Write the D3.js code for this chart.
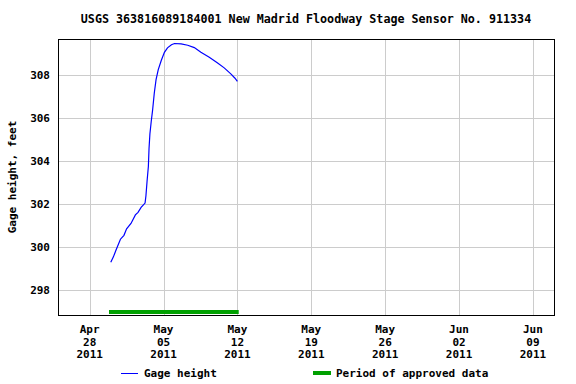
<!DOCTYPE html>
<html><head><meta charset="utf-8">
<script src="https://cdn.jsdelivr.net/npm/d3@7"></script>
<style>
body { margin: 0; background: #fff; }
text { font-family: "DejaVu Sans Mono", monospace; font-weight: bold; fill: #000; }
</style>
</head><body><svg width="576" height="384"></svg>
<script>

var title = "USGS 363816089184001 New Madrid Floodway Stage Sensor No. 911334";

// gage height readings (time, feet)
var times = [
  "2011-04-30T00:00", "2011-04-30T06:00", "2011-04-30T12:00", "2011-04-30T22:00",
  "2011-05-01T06:00", "2011-05-01T12:00", "2011-05-01T22:00", "2011-05-02T08:00",
  "2011-05-02T14:00", "2011-05-02T21:00", "2011-05-03T06:00", "2011-05-03T08:00",
  "2011-05-03T10:30", "2011-05-03T13:30", "2011-05-03T15:00", "2011-05-03T17:00",
  "2011-05-03T20:00", "2011-05-03T23:00", "2011-05-04T03:00", "2011-05-04T07:00",
  "2011-05-04T12:00", "2011-05-04T19:00", "2011-05-05T02:00", "2011-05-05T09:00",
  "2011-05-05T18:00", "2011-05-06T01:00", "2011-05-06T16:00", "2011-05-07T07:00",
  "2011-05-07T22:00", "2011-05-08T13:00", "2011-05-09T08:00", "2011-05-10T03:00",
  "2011-05-10T18:00", "2011-05-11T09:00", "2011-05-11T18:00", "2011-05-12T00:00"
];
var heights = [
  299.30, 299.55, 299.87, 300.37,
  300.55, 300.85, 301.10, 301.50,
  301.62, 301.85, 302.05, 302.39,
  303.05, 303.75, 304.57, 305.26,
  305.84, 306.34, 307.16, 307.78,
  308.25, 308.68, 309.05, 309.26,
  309.40, 309.46, 309.44, 309.38,
  309.27, 309.05, 308.82, 308.56,
  308.33, 308.05, 307.86, 307.70
];

var approvedStart = "2011-04-29T20:00";
var approvedEnd = "2011-05-12T03:00";

var yTicks = [298, 300, 302, 304, 306, 308];
var xTicks = ["2011-04-28", "2011-05-05", "2011-05-12", "2011-05-19", "2011-05-26", "2011-06-02", "2011-06-09"];

var parse = d3.timeParse("%Y-%m-%dT%H:%M"),
    parseDay = d3.timeParse("%Y-%m-%d");

var data = times.map(function(t, i) { return {date: parse(t), value: heights[i]}; });

var svg = d3.select("svg"),
    pLeft = 58, pRight = 554, pTop = 39, pBottom = 315;

var x = d3.scaleTime()
    .domain([parseDay("2011-04-25"), parseDay("2011-06-11")])
    .range([pLeft, pRight]);

var y = d3.scaleLinear()
    .domain([296.85, 309.67])
    .range([pBottom, pTop]);

// title
svg.append("text")
    .attr("x", 306).attr("y", 23)
    .attr("text-anchor", "middle")
    .style("font-size", "11.7px")
    .text(title);

// grid
svg.append("g").selectAll("line")
    .data(xTicks.map(parseDay))
  .enter().append("line")
    .attr("x1", function(d) { return Math.round(x(d)) + 0.5; })
    .attr("x2", function(d) { return Math.round(x(d)) + 0.5; })
    .attr("y1", pTop).attr("y2", pBottom)
    .attr("stroke", "#cccccc");

svg.append("g").selectAll("line")
    .data(yTicks)
  .enter().append("line")
    .attr("x1", pLeft).attr("x2", pRight)
    .attr("y1", function(d) { return Math.round(y(d)) + 0.5; })
    .attr("y2", function(d) { return Math.round(y(d)) + 0.5; })
    .attr("stroke", "#cccccc");

// approved period bar
svg.append("line")
    .attr("x1", x(parse(approvedStart))).attr("x2", x(parse(approvedEnd)))
    .attr("y1", 312).attr("y2", 312)
    .attr("stroke", "#00a000")
    .attr("stroke-width", 4);

// gage height line
svg.append("path")
    .datum(data)
    .attr("fill", "none")
    .attr("stroke", "#0000ff")
    .attr("stroke-width", 1.2)
    .attr("d", d3.line()
        .x(function(d) { return x(d.date); })
        .y(function(d) { return y(d.value); }));

// frame
svg.append("rect")
    .attr("x", pLeft + 0.5).attr("y", pTop + 0.5)
    .attr("width", pRight - pLeft).attr("height", pBottom - pTop)
    .attr("fill", "none")
    .attr("stroke", "#000");

// y tick labels
svg.append("g").selectAll("text")
    .data(yTicks)
  .enter().append("text")
    .attr("x", 50)
    .attr("y", function(d) { return y(d) + 4; })
    .attr("text-anchor", "end")
    .style("font-size", "11px")
    .text(function(d) { return d; });

// x tick labels
var fmt = [d3.timeFormat("%b"), d3.timeFormat("%d"), d3.timeFormat("%Y")];
var xl = svg.append("g").selectAll("text")
    .data(xTicks.map(parseDay))
  .enter().append("text")
    .attr("text-anchor", "middle")
    .style("font-size", "11px");
fmt.forEach(function(f, i) {
  xl.append("tspan")
      .attr("x", function(d) { return x(d); })
      .attr("y", 333 + i * 12.7)
      .text(function(d) { return f(d); });
});

// y axis title
svg.append("text")
    .attr("transform", "translate(16," + ((pTop + pBottom) / 2) + ") rotate(-90)")
    .attr("text-anchor", "middle")
    .style("font-size", "11px")
    .text("Gage height, feet");

// legend
svg.append("rect")
    .attr("x", 121).attr("y", 373).attr("width", 17).attr("height", 1)
    .attr("fill", "#0000ff");
svg.append("text")
    .attr("x", 144).attr("y", 377)
    .style("font-size", "11px")
    .text("Gage height");
svg.append("rect")
    .attr("x", 313).attr("y", 371).attr("width", 18).attr("height", 4)
    .attr("fill", "#00a000");
svg.append("text")
    .attr("x", 336).attr("y", 377)
    .style("font-size", "11px")
    .text("Period of approved data");

</script>
</body></html>
